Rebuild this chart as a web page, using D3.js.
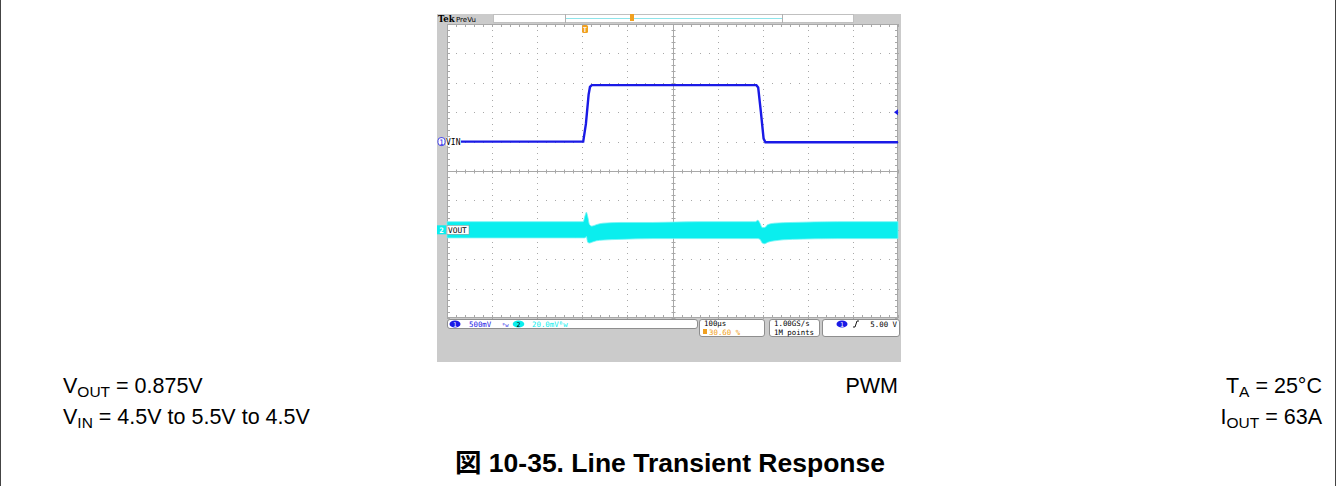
<!DOCTYPE html>
<html><head><meta charset="utf-8">
<script src="https://cdn.jsdelivr.net/npm/d3@7"></script>
<style>body{margin:0;background:#fff}svg{display:block}</style>
</head><body><svg id="c" width="1336" height="486"></svg>
<script>
// ---------- data ----------
const ch1TimeUs = [-306, -4, 2, 8, 11, 15, 380, 384, 390, 396, 400, 694];
const ch1Volts  = [4.50, 4.50, 4.80, 5.30, 5.43, 5.46, 5.46, 5.42, 5.00, 4.55, 4.49, 4.49];
const ch2TimeUs  = [-306, -20, -4, 0, 3, 6, 10, 15, 25, 40, 80, 150, 250, 370, 378, 383, 388, 393, 398, 405, 420, 460, 560, 694];
const ch2UpperMv = [5.5, 5.5, 5.5, 9.5, 12, 9, 3.5, 2.5, 3.5, 4.5, 5, 5, 5.5, 5.5, 5.5, 6.5, 4.5, 1.5, 1.5, 3.5, 4.5, 5, 5.5, 5.5];
const ch2LowerMv = [-5.5, -5.5, -5.5, -5.5, -4.5, -8.5, -9, -8.5, -7.5, -7, -6.5, -6, -6, -6, -6, -6, -6.5, -9, -9.5, -8.5, -7.5, -6.5, -6, -6];
const hDivs = 10, vDivs = 10, minorPerDiv = 5;
const timePerDivUs = 100, triggerPosPct = 30.60;
const ch1VoltsPerDiv = 0.5, ch1OffsetV = 4.5, ch1PosDiv = 1, ch1TrigLevelV = 5.0;
const ch2MvPerDiv = 20, ch2PosDiv = -2;
const ch1Name = "VIN", ch2Name = "VOUT";
const statusCh1 = "500mV", statusCh2 = "20.0mV", timebaseText = "100µs", trigPosText = "30.60 %";
const sampleRateText = "1.00GS/s", recordText = "1M points", trigLevelText = "5.00 V";
const condLeft = [["V", "OUT", " = 0.875V"], ["V", "IN", " = 4.5V to 5.5V to 4.5V"]];
const condCenter = ["PWM"];
const condRight = [["T", "A", " = 25°C"], ["I", "OUT", " = 63A"]];
const figTitle = "図 10-35. Line Transient Response";

// ---------- layout ----------
const svg = d3.select("#c");
const W = 1336, H = 486;
const scope = {x0: 437, y0: 14, x1: 901, y1: 362};
const G = {x0: 447, x1: 898, y0: 24, y1: 318};
const blue = "#1a1ae6", cyan = "#0aeeee", orange = "#f0a020", gridC = "#a8a8a8";
const tStart = -triggerPosPct / 100 * hDivs * timePerDivUs;
const tEnd = tStart + hDivs * timePerDivUs;
const x = d3.scaleLinear().domain([tStart, tEnd]).range([G.x0, G.x1]);
const y = d3.scaleLinear().domain([-vDivs / 2, vDivs / 2]).range([G.y1, G.y0]);
const xd = d3.scaleLinear().domain([0, hDivs]).range([G.x0, G.x1]);
const ch1Div = v => ch1PosDiv + (v - ch1OffsetV) / ch1VoltsPerDiv;
const ch2Div = mv => ch2PosDiv + mv / ch2MvPerDiv;

// figure frame
svg.append("line").attr("x1", 0.5).attr("x2", 0.5).attr("y1", 0).attr("y2", H).attr("stroke", "#444");
svg.append("line").attr("x1", W - 0.5).attr("x2", W - 0.5).attr("y1", 0).attr("y2", H).attr("stroke", "#444");

// scope background
svg.append("rect").attr("x", scope.x0).attr("y", scope.y0).attr("width", scope.x1 - scope.x0).attr("height", scope.y1 - scope.y0).attr("fill", "#cbcbcb");
svg.append("rect").attr("x", G.x0).attr("y", G.y0).attr("width", G.x1 - G.x0).attr("height", G.y1 - G.y0).attr("fill", "#fff");

// grid dots
const gg = svg.append("g");
const minorX = d3.range(0, hDivs * minorPerDiv + 1).map(i => xd(i / minorPerDiv));
const minorY = d3.range(-vDivs * minorPerDiv / 2, vDivs * minorPerDiv / 2 + 1).map(i => y(i / minorPerDiv));
for (let i = 1; i < hDivs; i++) {
  if (i === hDivs / 2) continue;
  minorY.forEach(py => gg.append("rect").attr("x", Math.round(xd(i))).attr("y", Math.round(py)).attr("width", 1).attr("height", 1).attr("fill", gridC));
}
for (let j = -vDivs / 2 + 1; j < vDivs / 2; j++) {
  if (j === 0) continue;
  minorX.forEach(px => gg.append("rect").attr("x", Math.round(px)).attr("y", Math.round(y(j))).attr("width", 1).attr("height", 1).attr("fill", gridC));
}
// center crosshair
const cx = Math.round(xd(hDivs / 2)) + 0.5, cy = Math.round(y(0)) + 0.5;
gg.append("line").attr("x1", G.x0).attr("x2", G.x1).attr("y1", cy).attr("y2", cy).attr("stroke", gridC);
gg.append("line").attr("x1", cx).attr("x2", cx).attr("y1", G.y0).attr("y2", G.y1).attr("stroke", gridC);
minorX.forEach(px => gg.append("line").attr("x1", Math.round(px) + 0.5).attr("x2", Math.round(px) + 0.5).attr("y1", cy - 2).attr("y2", cy + 2).attr("stroke", gridC));
minorY.forEach(py => gg.append("line").attr("y1", Math.round(py) + 0.5).attr("y2", Math.round(py) + 0.5).attr("x1", cx - 2).attr("x2", cx + 2).attr("stroke", gridC));
// frame with ticks
gg.append("rect").attr("x", G.x0 + 0.5).attr("y", G.y0 + 0.5).attr("width", G.x1 - G.x0 - 1).attr("height", G.y1 - G.y0 - 1).attr("fill", "none").attr("stroke", gridC);
minorX.forEach(px => {
  gg.append("line").attr("x1", Math.round(px) + 0.5).attr("x2", Math.round(px) + 0.5).attr("y1", G.y0).attr("y2", G.y0 + 3).attr("stroke", gridC);
  gg.append("line").attr("x1", Math.round(px) + 0.5).attr("x2", Math.round(px) + 0.5).attr("y1", G.y1 - 3).attr("y2", G.y1).attr("stroke", gridC);
});
minorY.forEach(py => {
  gg.append("line").attr("y1", Math.round(py) + 0.5).attr("y2", Math.round(py) + 0.5).attr("x1", G.x0).attr("x2", G.x0 + 3).attr("stroke", gridC);
  gg.append("line").attr("y1", Math.round(py) + 0.5).attr("y2", Math.round(py) + 0.5).attr("x1", G.x1 - 3).attr("x2", G.x1).attr("stroke", gridC);
});

// waveforms
const ch2Data = ch2TimeUs.map((t, i) => ({t, hi: ch2UpperMv[i], lo: ch2LowerMv[i]}));
svg.append("path").datum(ch2Data)
  .attr("d", d3.area().x(d => x(d.t)).y0(d => y(ch2Div(d.lo))).y1(d => y(ch2Div(d.hi))).curve(d3.curveMonotoneX))
  .attr("fill", cyan).attr("stroke", "#6ff4f4").attr("stroke-width", 0.8);
const ch1Data = ch1TimeUs.map((t, i) => ({t, v: ch1Volts[i]}));
svg.append("path").datum(ch1Data)
  .attr("d", d3.line().x(d => x(d.t)).y(d => y(ch1Div(d.v))))
  .attr("fill", "none").attr("stroke", blue).attr("stroke-width", 2.4);

// channel markers
const mono = "DejaVu Sans Mono, monospace";
const y1m = y(ch1Div(ch1OffsetV));
svg.append("rect").attr("x", 438).attr("y", y1m - 4).attr("width", 7).attr("height", 8).attr("rx", 3).attr("fill", "#fff").attr("stroke", blue).attr("stroke-width", 0.8);
svg.append("text").attr("x", 441.5).attr("y", y1m + 3).attr("text-anchor", "middle").attr("font-family", mono).attr("font-size", 7.5).attr("fill", blue).text("1");
svg.append("rect").attr("x", 446).attr("y", y1m - 4).attr("width", 15).attr("height", 8).attr("fill", "#fff");
svg.append("text").attr("x", 446).attr("y", y1m + 3).attr("font-family", mono).attr("font-size", 8).attr("fill", "#000").text(ch1Name);
const y2m = y(ch2Div(0));
svg.append("rect").attr("x", 437).attr("y", y2m - 4.5).attr("width", 9).attr("height", 9).attr("fill", cyan);
svg.append("text").attr("x", 441.5).attr("y", y2m + 3).attr("text-anchor", "middle").attr("font-family", mono).attr("font-size", 7.5).attr("font-weight", "bold").attr("fill", "#fff").text("2");
svg.append("rect").attr("x", 447).attr("y", y2m - 4.5).attr("width", 22).attr("height", 9).attr("fill", "#fff").attr("stroke", "#888").attr("stroke-width", 0.5);
svg.append("text").attr("x", 448).attr("y", y2m + 3).attr("font-family", mono).attr("font-size", 7.8).attr("fill", "#000").text(ch2Name);

// trigger level marker (right)
const ytl = y(ch1Div(ch1TrigLevelV));
svg.append("path").attr("d", `M${G.x1 - 4},${ytl} L${G.x1},${ytl - 3} L${G.x1},${ytl + 3} Z`).attr("fill", blue);
// trigger position marker
const xt = x(0);
svg.append("rect").attr("x", xt - 3).attr("y", G.y0 + 1).attr("width", 6).attr("height", 8).attr("rx", 1.5).attr("fill", orange);
svg.append("text").attr("x", xt).attr("y", G.y0 + 8).attr("text-anchor", "middle").attr("font-family", mono).attr("font-size", 6.5).attr("font-weight", "bold").attr("fill", "#fff").text("T");

// top record bar
svg.append("text").attr("x", 438).attr("y", 22).attr("font-family", "DejaVu Serif, serif").attr("font-size", 8.5).attr("font-weight", "bold").attr("fill", "#000").text("Tek");
svg.append("text").attr("x", 456).attr("y", 21.5).attr("font-family", "DejaVu Sans, sans-serif").attr("font-size", 7).attr("fill", "#000").text("PreVu");
svg.append("rect").attr("x", 493.5).attr("y", 14.5).attr("width", 360).attr("height", 8).attr("fill", "#fff").attr("stroke", "#c0c0c0").attr("stroke-width", 1);
svg.append("line").attr("x1", 565.5).attr("x2", 565.5).attr("y1", 14).attr("y2", 23).attr("stroke", "#b0b0b0");
svg.append("line").attr("x1", 782.5).attr("x2", 782.5).attr("y1", 14).attr("y2", 23).attr("stroke", "#b0b0b0");
svg.append("line").attr("x1", 566).attr("x2", 782).attr("y1", 18.5).attr("y2", 18.5).attr("stroke", "#8ee4ea").attr("stroke-width", 1.2);
svg.append("rect").attr("x", 630).attr("y", 14).attr("width", 4).attr("height", 7).attr("fill", orange);

// status bar
const sb = svg.append("g").attr("font-family", mono).attr("font-size", 7.4);
function box(x0, y0, w, h) { sb.append("rect").attr("x", x0 + 0.5).attr("y", y0 + 0.5).attr("width", w).attr("height", h).attr("rx", 2.5).attr("fill", "#fff").attr("stroke", "#777").attr("stroke-width", 0.8); }
box(447, 319, 250, 9);
sb.append("ellipse").attr("cx", 455).attr("cy", 324).attr("rx", 5.5).attr("ry", 3.6).attr("fill", blue);
sb.append("text").attr("x", 455).attr("y", 326.5).attr("text-anchor", "middle").attr("fill", "#fff").attr("font-size", 6.5).text("1");
sb.append("text").attr("x", 469).attr("y", 326.5).attr("fill", blue).text(statusCh1);
sb.append("text").attr("x", 502).attr("y", 326.5).attr("fill", blue).attr("font-size", 5.5).text("ᴮw");
sb.append("ellipse").attr("cx", 518.5).attr("cy", 324).attr("rx", 5.8).attr("ry", 3.6).attr("fill", cyan);
sb.append("text").attr("x", 518.5).attr("y", 326.5).attr("text-anchor", "middle").attr("fill", "#000").attr("font-size", 6.5).text("2");
sb.append("text").attr("x", 532).attr("y", 326.5).attr("fill", cyan).text(statusCh2 + "ᴮw");
box(699, 319, 65, 17);
sb.append("text").attr("x", 704).attr("y", 326).attr("fill", "#000").text(timebaseText);
sb.append("rect").attr("x", 703).attr("y", 329).attr("width", 4).attr("height", 5).attr("fill", orange);
sb.append("text").attr("x", 709).attr("y", 334.5).attr("fill", orange).text(trigPosText);
box(769, 319, 50, 17);
sb.append("text").attr("x", 774).attr("y", 326).attr("fill", "#000").text(sampleRateText);
sb.append("text").attr("x", 774).attr("y", 334.5).attr("fill", "#000").text(recordText);
box(822, 319, 77, 17);
sb.append("ellipse").attr("cx", 842).attr("cy", 324).attr("rx", 5.5).attr("ry", 3.6).attr("fill", blue);
sb.append("text").attr("x", 842).attr("y", 326.5).attr("text-anchor", "middle").attr("fill", "#fff").attr("font-size", 6.5).text("1");
sb.append("path").attr("d", "M853,327 L855,327 L857,321 L859,321").attr("fill", "none").attr("stroke", "#000").attr("stroke-width", 0.9);
sb.append("text").attr("x", 897).attr("y", 326.5).attr("text-anchor", "end").attr("fill", "#000").text(trigLevelText);

// conditions text
const sans = "Liberation Sans, Arial, sans-serif";
const ct = svg.append("g").attr("font-family", sans).attr("font-size", 21.5).attr("fill", "#000");
function sub(g, parts, xx, yy, anchor) {
  const t = g.append("text").attr("x", xx).attr("y", yy).attr("text-anchor", anchor);
  t.append("tspan").text(parts[0]);
  t.append("tspan").attr("font-size", 15.5).attr("dy", 4).text(parts[1]);
  t.append("tspan").attr("dy", -4).text(parts[2]);
}
condLeft.forEach((p, i) => sub(ct, p, 63, 393 + i * 31, "start"));
condRight.forEach((p, i) => sub(ct, p, 1322, 393 + i * 31, "end"));
condCenter.forEach((p, i) => ct.append("text").attr("x", 898).attr("y", 393 + i * 31).attr("text-anchor", "end").text(p));

svg.append("text").attr("x", 670).attr("y", 472).attr("text-anchor", "middle")
  .attr("font-family", "Liberation Sans, Arial, 'Noto Sans CJK JP', sans-serif").attr("font-size", 26.5).attr("font-weight", "bold").attr("fill", "#000").text(figTitle);
</script></body></html>
